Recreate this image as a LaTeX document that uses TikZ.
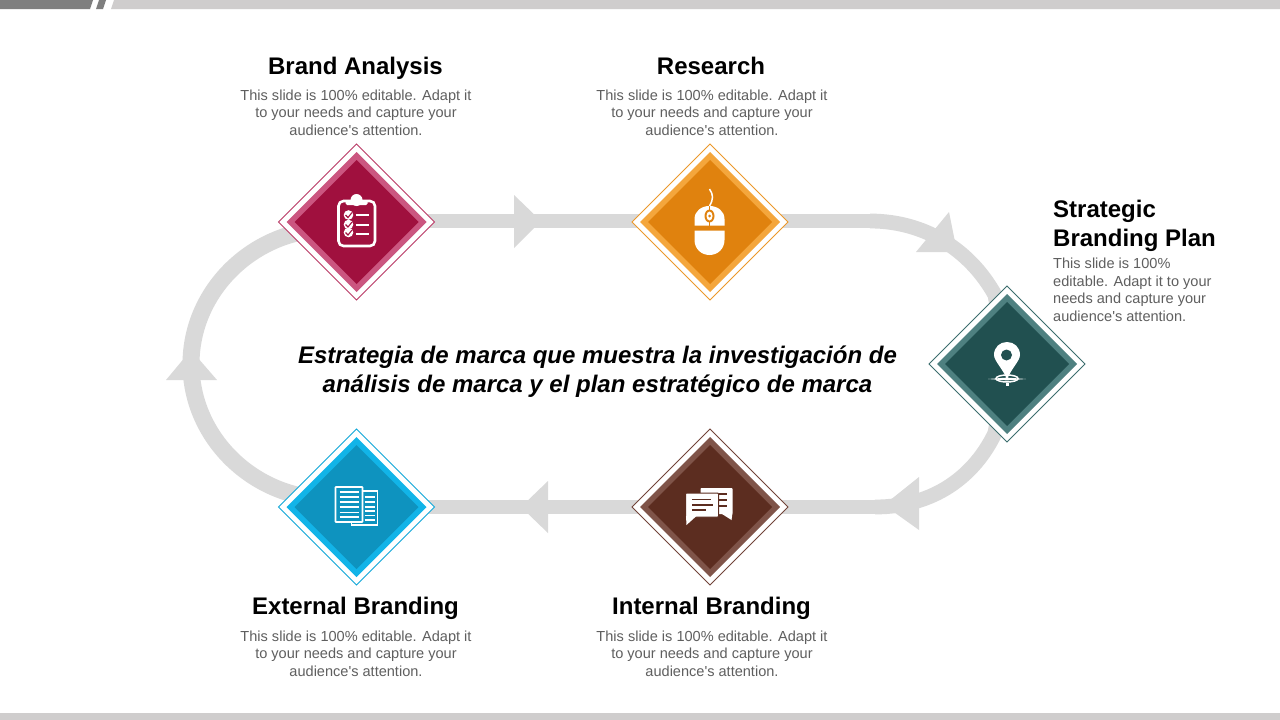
\documentclass[tikz,border=0pt]{standalone}
\usepackage{fontspec}
\newfontfamily\lsans{Liberation Sans}
\usetikzlibrary{shapes.geometric}
\definecolor{track}{HTML}{D9D9D9}
\definecolor{bodygray}{HTML}{5F5F5F}
\definecolor{barDark}{HTML}{7F7F7F}
\definecolor{barLight}{HTML}{CFCDCD}
\definecolor{brandD}{HTML}{A0103E}
\definecolor{brandL}{HTML}{CB5680}
\definecolor{resD}{HTML}{E0820E}
\definecolor{resL}{HTML}{F4A63C}
\definecolor{planD}{HTML}{215050}
\definecolor{planL}{HTML}{4E8080}
\definecolor{intD}{HTML}{5C2D20}
\definecolor{intL}{HTML}{7F5449}
\definecolor{extD}{HTML}{0E93BF}
\definecolor{extL}{HTML}{12B4E8}
\tikzset{
  x=1pt,y=-1pt,
  track line/.style={draw=track,line width=14.8pt},
  track bend/.style={draw=track,line width=14.8pt},
  track curve/.style={draw=track,line width=17pt},
  track head/.style={fill=track,draw=none},
  dia/.style={diamond,aspect=1,inner sep=0pt,outer sep=0pt,minimum width=#1pt,minimum height=#1pt},
  title text/.style={font=\lsans\fontsize{24}{29}\selectfont\bfseries,text=black,align=center,anchor=base,inner sep=0pt},
  body text/.style={font=\lsans\fontsize{14.55}{17.5}\selectfont,text=bodygray,align=center},
  iconline/.style={draw=white,line width=2pt},
}
\newcommand{\badge}[4]{%
  \node[dia=156,draw=#3!60!#4,line width=0.8pt,fill=white] (#1) at (#2) {};
  \node[dia=140,fill=#3] at (#2) {};
  \node[dia=124,fill=#4] at (#2) {};
}
\begin{document}
\begin{tikzpicture}
\useasboundingbox (0,0) rectangle (1280,720);
\fill[white] (0,0) rectangle (1280,720);
\fill[barDark] (0,0) -- (93,0) -- (90,9) -- (0,9) -- cycle;
\fill[barDark] (99,0) -- (106,0) -- (103,9) -- (96,9) -- cycle;
\fill[barLight] (114,0) -- (1280,0) -- (1280,9) -- (111,9) -- cycle;
\fill[barLight] (0,713) rectangle (1280,720);
\coordinate (brandc) at (356.5,222);
\coordinate (researchc) at (710,222);
\coordinate (planc) at (1007,364);
\coordinate (internalc) at (710,507);
\coordinate (externalc) at (356.5,507);
\coordinate (topbend) at (870,221);
\coordinate (topout) at (995,295);
\coordinate (botout) at (995,433);
\coordinate (botbend) at (875,507);
\coordinate (leftmid) at (191,364);
\coordinate (lefttop) at (330,229);
\coordinate (leftbot) at (330,499);
% track
\draw[track line] (brandc |- topbend) -- (topbend);
\draw[track line] (botbend) -- (internalc) -- (externalc);
\draw[track bend] (topbend) .. controls (925,221) and (970,250) .. (topout) -- (planc);
\draw[track bend] (planc) -- (botout) .. controls (975,475) and (935,507) .. (botbend);
\draw[track curve] (externalc) -- (leftbot) .. controls (254,499) and (191,438) .. (leftmid) .. controls (191,290) and (254,229) .. (lefttop) -- (brandc);
% arrowheads
\fill[track head] (514,195) -- (541,221) -- (514,248) -- cycle;
\fill[track head] (949,212) -- (916,252) -- (957,252) -- cycle;
\fill[track head] (548,481) -- (521,507) -- (548,533) -- cycle;
\fill[track head] (919,477) -- (884,505) -- (919,530) -- cycle;
\fill[track head] (191,350) -- (166,380) -- (217,380) -- cycle;
% badges
\badge{brand}{brandc}{brandL}{brandD}
\badge{research}{researchc}{resL}{resD}
\badge{plan}{planc}{planL}{planD}
\badge{internal}{internalc}{intL}{intD}
\badge{external}{externalc}{extL}{extD}
% clipboard icon
\begin{scope}[shift={(356.5,222)}]
  \draw[white,line width=2.6pt,rounded corners=5pt] (-18,-21) rectangle (18.5,24);
  \fill[white] (0,-22) circle (6);
  \fill[white,rounded corners=1.5pt] (-11,-22) rectangle (11,-17);
  \foreach \yy/\ll in {-7/-7,2.5/2.5,10.5/11.5}{
    \fill[white] (-8,\yy) circle (4.8);
    \draw[line width=1.1pt,draw=brandD] (-11,\yy) -- (-8.5,\yy+2.5) -- (-4.5,\yy-2.5);
    \draw[iconline] (-1,\ll) -- (12,\ll);
  }
\end{scope}
% mouse icon
\begin{scope}[shift={(709.5,222)}]
  \fill[white] (-15,3.7) -- (-15,-3) .. controls (-15,-11) and (-8,-16) .. (0,-16) .. controls (8,-16) and (15,-11) .. (15,-3) -- (15,3.7) -- cycle;
  \fill[white] (-15,8.7) -- (15,8.7) -- (15,18) .. controls (15,27) and (8,33) .. (0,33) .. controls (-8,33) and (-15,27) .. (-15,18) -- cycle;
  \fill[resD] (-0.8,-16) rectangle (0.8,3.7);
  \fill[resD] (0,-6) ellipse (5 and 6.5);
  \fill[white] (0,-6) ellipse (3 and 4.5);
  \fill[resD] (0,-6) circle (1.5);
  \draw[white,line width=1.5pt] (0,-33) .. controls (4,-27) and (4,-23) .. (0,-16);
\end{scope}
% pin icon
\begin{scope}[shift={(1007,364)}]
  \draw[white,line width=1.5pt] (0,14.5) ellipse (11 and 3.5);
  \fill[white] (-19,15) -- (0,13.6) -- (19,15) -- (0,16.4) -- cycle;
  \fill[white] (-1.5,18.5) rectangle (1.5,21.5);
  \fill[white] (0,16) .. controls (-3,6) and (-13,-3) .. (-13,-9) .. controls (-13,-17) and (-7,-22) .. (0,-22) .. controls (7,-22) and (13,-17) .. (13,-9) .. controls (13,-3) and (3,6) .. (0,16) -- cycle;
  \fill[planD] (-0.5,-9) circle (5.5);
\end{scope}
% chat icon
\begin{scope}[shift={(709.5,507)}]
  \fill[white,rounded corners=0.8pt] (-9,-19) rectangle (23,7);
  \fill[white] (11,6) -- (23,6) -- (22,13) -- cycle;
  \foreach \yy in {-13,-7,-1}{\fill[intD] (9,\yy-0.9) rectangle (17,\yy+0.9);}
  \draw[intD,line width=1pt,fill=white,rounded corners=0.8pt] (-24,-14) rectangle (9,10);
  \fill[white] (-23.5,9) -- (-23,18) -- (-13,9) -- cycle;
  \fill[intD] (-18,-8.5) rectangle (1,-6.7);
  \fill[intD] (-18,-3.2) rectangle (3,-1.4);
  \fill[intD] (-18,2.1) rectangle (-4,3.9);
\end{scope}
% documents icon
\begin{scope}[shift={(356.5,507)}]
  \draw[white,line width=1.5pt] (6,-16) -- (21,-16) -- (21,18) -- (-5,18) -- (-5,15);
  \draw[white,line width=1.6pt,fill=extD,rounded corners=0.5pt] (-21,-20) rectangle (6,15);
  \foreach \yy in {-15,-10,-5,0,5.3,10}{\draw[white,line width=1.6pt] (-17,\yy) -- (2,\yy);}
  \foreach \yy in {-10,-5,0,4,8.5,13}{\draw[white,line width=1.5pt] (8,\yy) -- (18,\yy);}
\end{scope}
% labels
\node[title text] (t1) at (355.5,74.5) {Brand Analysis};
\node[body text] (b1) at (356,112.7) {This slide is 100\% editable. Adapt it\\to your needs and capture your\\audience's attention.};
\node[title text] (t2) at (711,74.5) {Research};
\node[body text] (b2) at (712,112.7) {This slide is 100\% editable. Adapt it\\to your needs and capture your\\audience's attention.};
\node[title text,align=left,anchor=north west] (t3) at (1053,200) {Strategic\\Branding Plan};
\node[body text,align=left,anchor=north west,inner sep=0pt] (b3) at (1053,258) {This slide is 100\%\\editable. Adapt it to your\\needs and capture your\\audience's attention.};
\node[title text] (t4) at (711.5,614) {Internal Branding};
\node[body text] (b4) at (712,653.5) {This slide is 100\% editable. Adapt it\\to your needs and capture your\\audience's attention.};
\node[title text] (t5) at (355.5,614) {External Branding};
\node[body text] (b5) at (356,653.5) {This slide is 100\% editable. Adapt it\\to your needs and capture your\\audience's attention.};
\node[font=\lsans\fontsize{24}{29.5}\selectfont\bfseries\itshape,text=black,align=center] (main) at (597.5,371.5) {Estrategia de marca que muestra la investigación de\\análisis de marca y el plan estratégico de marca};
\end{tikzpicture}
\end{document}
